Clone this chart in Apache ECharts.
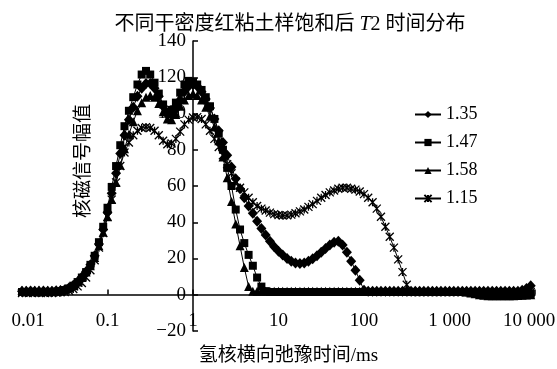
<!DOCTYPE html>
<html>
<head>
<meta charset="utf-8">
<script src="https://cdn.jsdelivr.net/npm/echarts@6/dist/echarts.min.js"></script>
<style>html,body{margin:0;padding:0;background:#fff}#c{width:557px;height:369px}</style>
</head>
<body>
<div id="c"></div>
<script>
// T2 relaxation time grid (ms)
const t2 = [
0.01,0.0112,0.0126,0.0141,0.0158,0.0178,0.02,0.0224,0.0251,0.0282,0.0316,0.0355,0.0398,0.0447,0.0501,0.0562,0.0631,0.0708,0.0794,0.0891,
0.1,0.112,0.126,0.141,0.158,0.178,0.2,0.224,0.251,0.282,0.316,0.355,0.398,0.447,0.501,0.562,0.631,0.708,0.794,0.891,
1,1.12,1.26,1.41,1.58,1.78,2,2.24,2.51,2.82,3.16,3.55,3.98,4.47,5.01,5.62,6.31,7.08,7.94,8.91,
10,11.2,12.6,14.1,15.8,17.8,20,22.4,25.1,28.2,31.6,35.5,39.8,44.7,50.1,56.2,63.1,70.8,79.4,89.1,
100,112,126,141,158,178,200,224,251,282,316,355,398,447,501,562,631,708,794,891,
1000,1122,1259,1413,1585,1778,1995,2239,2512,2818,3162,3548,3981,4467,5012,5623,6310,7079,7943,8913
];
const s135 = [
2,2,2.1,2,2,2.1,2,2,2.2,2.4,
2.8,3.8,5.2,7.2,9.8,12.8,16.5,21.5,28,36,
45.5,56,67,78,88,96.5,103.5,109.5,114,116.5,
116.5,114,109.5,104,99.5,99,102.5,107.5,112,115,
116,115,112,108,103,97,90.5,84,77,70.5,
64,58.5,53.5,49,45,40.5,36.5,33,29.5,26.5,
24,22,20,18.5,17.5,17.3,17.5,18.5,19.8,21.5,
23.5,25.5,27.5,29,29.5,27.5,23.5,18.5,13.5,8,
2.5,2,2,2,2,2,2,2,2,2,
2,2,2,2,2,2,2,2,2,2,
2,2,2,2,2,2,2,2,2,2,
2,2,2,2,2,2,2,2.5,3.5,5
];
const s147 = [
1.5,1.5,1.6,1.5,1.4,1.5,1.6,1.5,1.7,2.0,
2.6,3.5,5,7,9.5,12.5,16.5,21.5,29,37.5,
48,59.5,71,82.5,93,101.5,109,116,121.5,123.5,
121.5,117,111,105,101,102,106,111.5,116,118,
117.5,116,113,109,104,97,89,80,70,60,
47,36,28.5,22,16,9.5,4.5,2,1.5,1.5,
1.5,1.5,1.5,1.5,1.5,1.5,1.5,1.5,1.5,1.5,
1.5,1.5,1.5,1.5,1.5,1.5,1.5,1.5,1.5,1.5,
1.5,1.5,1.5,1.5,1.5,1.5,1.5,1.5,1.5,1.5,
1.5,1.5,1.5,1.5,1.5,1.5,1.5,1.5,1.5,1.5,
1.5,1.5,1.5,1.5,1.4,1.2,1,0.8,0.6,0.5,
0.5,0.4,0.4,0.3,0.3,0.3,0.4,0.4,0.5,0.6
];
const s158 = [
2.5,2.5,2.4,2.5,2.6,2.5,2.5,2.4,2.5,2.7,
3,3.8,5,7,9.5,12.5,16,20.5,27,34.5,
43,52.5,62,71.5,80.5,88.5,95.5,101.5,106,109,
110,109,105.5,101,97,96.5,99.5,104,107.5,110,
111,110,107.5,103.5,98.5,92.5,85,76,64.5,51.5,
39,27,15,4.5,2,2,2,2,2,2,
2,2,2,2,2,2,2,2,2,2,
2,2,2,2,2,2,2,2,2,2,
2,2,2,2,2,2,2,2,2,2,
2,2,2,2,2,2,2,2,2,2,
2,2,2,2,1.5,1,0.5,0,-0.3,-0.5,
-0.5,-0.6,-0.6,-0.5,-0.5,-0.5,-0.4,-0.3,-0.2,0
];
const s115 = [
1,1,1.1,1,1,1.1,1,1,1.2,1.3,
1.5,2.2,3.2,4.6,6.5,9.5,13.5,19,26,34,
43,52.5,62,71,78.5,84,88,90.5,92,92.5,
92,90.5,88,85,83,83.5,86,90,94,96.5,
97.8,98,97,94,90.5,86,81.5,77,72,67,
62.5,59,56.5,53.5,51,49,47.5,46.5,45.3,44.5,
44,43.7,43.8,44.2,45,46,47,48.5,50,51.8,
53.5,55,56.5,57.5,58.5,59,59,58.5,58,57,
55.5,53.5,51,47.5,43,37.5,32,26,19.5,12.5,
5.5,1.5,1.5,1.5,1.5,1.5,1.5,1.5,1.5,1.5,
1.5,1.5,1.5,1.5,1.5,1.5,1.5,1.5,1.5,1.5,
1.5,1.5,1.5,1.5,1.5,1.5,1.5,1.5,1.5,1.5
];
const seriesNames = ['1.35','1.47','1.58','1.15'];
const xTickLabels = ['0.01','0.1','1','10','100','1 000','10 000'];
const titleText = '不同干密度红粘土样饱和后 {i|T}2 时间分布';
const xName = '氢核横向弛豫时间/ms';
const yName = '核磁信号幅值';

const FF = '"Liberation Serif","Noto Sans CJK SC",serif';
const chart = echarts.init(document.getElementById('c'), null, {renderer:'canvas'});
function pairs(v){ return v.map((y,i)=>[t2[i], y]); }
const symbols = [
  {symbol:'diamond', size:[10,11]},
  {symbol:'rect', size:8},
  {symbol:'triangle', size:9},
  {symbol:'path://M0 0L10 10M10 0L0 10M5 0L5 10', size:8}
];
const allData = [s135, s147, s158, s115];
const series = allData.map((d,k)=>({
  name: seriesNames[k], type:'line', xAxisIndex:0, yAxisIndex:0,
  data: pairs(d), symbol: symbols[k].symbol, symbolSize: symbols[k].size,
  showAllSymbol:true, smooth:false,
  lineStyle:{color:'#000', width:1},
  itemStyle:{color:'#000', borderColor:'#000', borderWidth: k===3 ? 1.3 : 0},
  emphasis:{disabled:true}
}));
const lab = {fontSize:19, color:'#000', fontFamily:FF};
chart.setOption({
  animation:false,
  backgroundColor:'#fff',
  title:{text:titleText, left:285, top:10, textAlign:'center',
    textStyle:{fontSize:20, fontWeight:'normal', color:'#000', fontFamily:FF,
      rich:{i:{fontStyle:'italic', fontSize:20, color:'#000', fontFamily:FF}}}},
  grid:[{left:22,right:22,top:41,bottom:38,containLabel:false,outerBoundsMode:'none'},
        {left:193,right:22,top:41,bottom:38,containLabel:false,outerBoundsMode:'none'}],
  xAxis:[
    {type:'log', logBase:10, min:0.01, max:10000, gridIndex:0, position:'bottom', offset:-36.4,
     axisLine:{onZero:false, lineStyle:{color:'#000', width:1.5}},
     axisTick:{inside:true, length:5, lineStyle:{color:'#000', width:1.5}},
     minorTick:{show:false}, splitLine:{show:false},
     axisLabel:Object.assign({margin:17, showMinLabel:true, showMaxLabel:true,
       formatter:function(v){
         const idx = Math.round(Math.log10(v))+2;
         const s = xTickLabels[idx];
         if(idx===0) return '{f|'+s+'}';
         if(idx===6) return '{l|'+s+'}';
         return s;
       },
       rich:{f:Object.assign({padding:[0,0,0,12]},lab), l:Object.assign({padding:[0,12,0,0]},lab)}}, lab),
     name:xName, nameLocation:'middle', nameGap:52,
     nameTextStyle:Object.assign({padding:[0,0,0,20]}, lab)},
    {type:'value', gridIndex:1, min:0, max:1, show:false}
  ],
  yAxis:[
    {type:'value', gridIndex:0, min:-20, max:140, show:false},
    {type:'value', gridIndex:1, min:-20, max:140, interval:20, position:'left',
     axisLine:{show:true, onZero:false, lineStyle:{color:'#000', width:1.5}},
     axisTick:{show:true, inside:true, length:5, lineStyle:{color:'#000', width:1.5}},
     splitLine:{show:false},
     axisLabel:Object.assign({margin:7, formatter:function(v){return v<0 ? '\u2212'+Math.abs(v) : String(v);}}, lab)}
  ],
  legend:{orient:'vertical', left:409, top:100, itemWidth:26, itemHeight:9, itemGap:9,
    data:seriesNames, textStyle:{fontSize:18, fontFamily:FF, color:'#000', lineHeight:19}},
  graphic:[{type:'text', x:82, y:161, rotation:Math.PI/2,
    style:{text:yName, font:'19px "Noto Sans CJK SC"', textAlign:'center', textVerticalAlign:'middle', fill:'#000'}}],
  series: series
});
</script>
</body>
</html>
